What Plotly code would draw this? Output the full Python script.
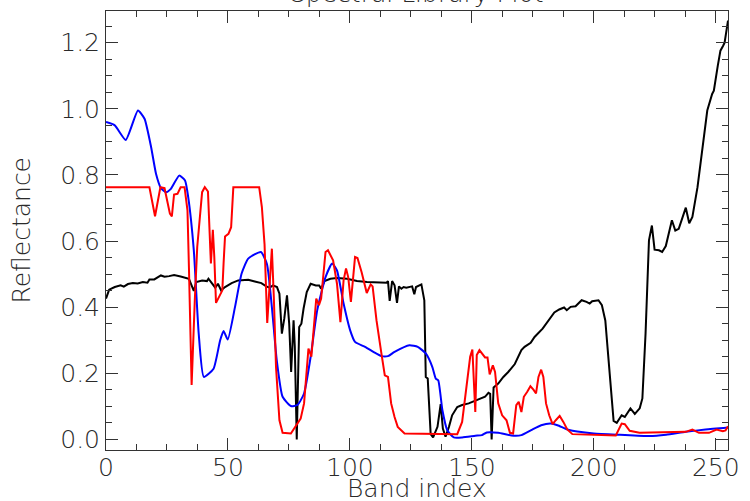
import plotly.graph_objects as go

# Blue spectrum
blue_band = [0, 3.6, 8.1, 13.1, 15.8, 18.5, 20.5, 22.5, 24.6, 26.6, 30, 32.4, 33.7, 36, 38, 40.1,
             44.1, 46.8, 48.2, 49.9, 52.9, 55.6, 58.3, 63.5, 66, 68, 70, 72.4, 75.8, 78.5, 81.2,
             83.9, 86.6, 90, 92.7, 94.7, 97.4, 100.1, 102.1, 106.2, 109.6, 112.9, 115.6, 118.3,
             124.4, 127.8, 131.1, 133.8, 135.2, 136.2, 137.9, 139.9, 142.6, 146, 151.4, 154.1,
             156.1, 160.8, 166.2, 170.3, 174.3, 178.4, 182.4, 185.1, 189.2, 193.2, 200, 210.7,
             222.8, 229.6, 237.7, 245.8, 255]
blue_refl = [0.960, 0.950, 0.906, 0.995, 0.970, 0.884, 0.804, 0.761, 0.748, 0.758, 0.798, 0.783,
             0.733, 0.572, 0.321, 0.189, 0.214, 0.300, 0.328, 0.302, 0.401, 0.502, 0.547, 0.567,
             0.530, 0.400, 0.240, 0.129, 0.101, 0.104, 0.139, 0.250, 0.391, 0.491, 0.532, 0.511,
             0.411, 0.330, 0.295, 0.280, 0.265, 0.252, 0.252, 0.265, 0.285, 0.280, 0.260, 0.219,
             0.184, 0.179, 0.089, 0.028, 0.006, 0.006, 0.011, 0.013, 0.021, 0.020, 0.012, 0.013,
             0.028, 0.043, 0.048, 0.043, 0.030, 0.024, 0.018, 0.014, 0.010, 0.014, 0.023, 0.030,
             0.036]

# Red spectrum
red_band = [0, 17.8, 20.1, 22.3, 24, 26.2, 27, 27.9, 29.3, 30.6, 32.2, 33.4, 34, 35.1, 36.4, 37.4,
            39.4, 40.5, 41.8, 42.5, 43, 43.8, 44.4, 45.1, 46.8, 47.7, 48.2, 48.8, 50.2, 51.3, 52.2,
            62.8, 63.9, 65, 66.1, 67.1, 68, 68.8, 69.7, 71.1, 72.4, 75.8, 77.2, 79.8, 81.2, 83,
            84.2, 85.3, 86.2, 87.3, 88.2, 90, 91, 93.1, 94.7, 96.1, 97.4, 98.4, 99.3, 100.4, 102.1,
            103.1, 104.8, 106.9, 108.5, 109.3, 110.9, 112.9, 114.3, 115.6, 116.9, 118.3, 119.6,
            122.4, 144, 146, 147.3, 148.4, 149.3, 150.2, 151.4, 152, 153.1, 155.4, 156.4, 157.3,
            158.6, 159.5, 160.8, 162.4, 164.2, 165.6, 166.9, 168.2, 169.2, 170.3, 171.3, 172.7,
            174, 175.3, 176.3, 177.3, 178.4, 179.3, 180.4, 181.7, 183.1, 184.4, 186, 187.5, 189.1,
            191.2, 200, 208, 209, 211.4, 212.7, 214.7, 218.7, 237.7, 240.4, 243.1, 247.2, 250.3,
            252.9, 254, 255]
red_refl = [0.763, 0.763, 0.675, 0.763, 0.760, 0.683, 0.675, 0.741, 0.743, 0.763, 0.763, 0.693,
            0.521, 0.165, 0.421, 0.582, 0.748, 0.763, 0.750, 0.600, 0.532, 0.634, 0.552, 0.413,
            0.441, 0.451, 0.532, 0.614, 0.622, 0.642, 0.763, 0.763, 0.703, 0.590, 0.352, 0.470,
            0.577, 0.431, 0.219, 0.058, 0.020, 0.018, 0.033, 0.063, 0.109, 0.275, 0.250, 0.350,
            0.426, 0.406, 0.426, 0.567, 0.572, 0.542, 0.471, 0.355, 0.481, 0.517, 0.491, 0.416,
            0.552, 0.549, 0.506, 0.443, 0.469, 0.463, 0.360, 0.260, 0.194, 0.189, 0.109, 0.068,
            0.038, 0.018, 0.016, 0.053, 0.129, 0.189, 0.250, 0.272, 0.083, 0.255, 0.270, 0.248,
            0.248, 0.197, 0.224, 0.204, 0.109, 0.073, 0.058, 0.020, 0.018, 0.104, 0.114, 0.083,
            0.129, 0.144, 0.161, 0.150, 0.139, 0.189, 0.211, 0.189, 0.109, 0.073, 0.046, 0.058,
            0.071, 0.053, 0.030, 0.016, 0.014, 0.010, 0.012, 0.048, 0.046, 0.026, 0.020, 0.023,
            0.030, 0.020, 0.020, 0.030, 0.025, 0.027, 0.040]

# Black spectrum
black_band = [0, 1.3, 3.6, 6, 7.3, 9, 11, 13, 15.1, 17, 17.8, 19.8, 22.5, 24, 25.9, 27.9, 30.6,
              32.5, 34, 36, 37, 39.4, 41.4, 42, 44.8, 45.9, 47.2, 48.8, 51.5, 54.2, 58.3, 61,
              63.7, 65.7, 67.1, 68.4, 70.1, 71.1, 72.1, 73.1, 74.2, 75.1, 75.9, 76.9, 77.4, 78.2,
              79.2, 80.1, 81, 82.3, 83.9, 86, 87.4, 88.2, 89.6, 92, 94.7, 98.8, 102.9, 107, 111,
              115, 115.6, 116.3, 117.3, 118.3, 119.3, 120.1, 121.1, 122, 123.1, 124.5, 125.5,
              126.4, 127.1, 129.3, 130.5, 131.1, 131.9, 133.1, 134.1, 135.9, 137.2, 138.1, 139.2,
              140.6, 141.9, 144, 146, 148.7, 151.4, 153.4, 155.4, 156.8, 157.5, 158.1, 158.9,
              160.8, 162.9, 164.9, 167.6, 170.3, 171.6, 174.1, 175.7, 179, 181.1, 183.8, 185.8,
              187.8, 188.9, 190.5, 192.5, 195, 197, 198.3, 199.3, 201.9, 203.3, 204.7, 205.7,
              207, 208.1, 209.4, 211.4, 212.7, 215, 216.8, 218.8, 219.9, 221.2, 222.6, 223.8,
              224.9, 226.7, 228, 229.5, 232, 233.4, 234.8, 236.1, 237.7, 239.1, 240.4, 242.5,
              244.5, 246.5, 248.5, 249.2, 250.8, 251.9, 253, 253.6, 255]
black_refl = [0.426, 0.453, 0.461, 0.466, 0.462, 0.470, 0.473, 0.472, 0.476, 0.474, 0.484, 0.484,
              0.496, 0.492, 0.494, 0.497, 0.493, 0.490, 0.486, 0.449, 0.476, 0.481, 0.479, 0.486,
              0.459, 0.471, 0.451, 0.461, 0.473, 0.481, 0.483, 0.478, 0.473, 0.463, 0.459, 0.466,
              0.461, 0.441, 0.320, 0.366, 0.436, 0.350, 0.204, 0.360, 0.280, 0.000, 0.340, 0.350,
              0.396, 0.446, 0.471, 0.466, 0.466, 0.456, 0.479, 0.486, 0.488, 0.486, 0.479, 0.476,
              0.474, 0.474, 0.479, 0.419, 0.479, 0.466, 0.413, 0.463, 0.456, 0.461, 0.459, 0.461,
              0.463, 0.439, 0.461, 0.469, 0.421, 0.189, 0.184, 0.016, 0.006, 0.038, 0.107, 0.033,
              0.008, 0.038, 0.073, 0.098, 0.104, 0.109, 0.117, 0.124, 0.129, 0.141, 0.138, 0.000,
              0.157, 0.169, 0.189, 0.204, 0.228, 0.270, 0.280, 0.292, 0.310, 0.335, 0.355, 0.384,
              0.393, 0.399, 0.391, 0.401, 0.403, 0.421, 0.416, 0.411, 0.418, 0.421, 0.406, 0.360,
              0.270, 0.149, 0.056, 0.050, 0.073, 0.068, 0.094, 0.077, 0.094, 0.124, 0.320, 0.602,
              0.647, 0.574, 0.572, 0.567, 0.585, 0.663, 0.632, 0.637, 0.663, 0.701, 0.654, 0.673,
              0.763, 0.874, 0.995, 1.045, 1.055, 1.130, 1.176, 1.191, 1.200, 1.267]

x_range = [0, 255]
y_range = [-0.032, 1.296]
x_ticks = [0, 50, 100, 150, 200, 250]
y_ticks = [0.0, 0.2, 0.4, 0.6, 0.8, 1.0, 1.2]
y_labels = ["0.0", "0.2", "0.4", "0.6", "0.8", "1.0", "1.2"]

FONT = "DejaVu Sans"
TXT = "#2a2a2a"
AX = "#333333"

fig = go.Figure()
fig.add_trace(go.Scatter(x=black_band, y=black_refl, mode="lines",
                         line=dict(color="black", width=2), showlegend=False))
fig.add_trace(go.Scatter(x=blue_band, y=blue_refl, mode="lines",
                         line=dict(color="#0000ff", width=2, shape="spline", smoothing=0.5),
                         showlegend=False))
fig.add_trace(go.Scatter(x=red_band, y=red_refl, mode="lines",
                         line=dict(color="#ff0000", width=2), showlegend=False))

axis_common = dict(showgrid=False, zeroline=False, showline=True, linecolor=AX, linewidth=1,
                   mirror="allticks", ticks="inside", ticklen=12, tickwidth=1, tickcolor=AX,
                   tickfont=dict(family=FONT, size=25, color=TXT, weight=200))

fig.update_layout(
    width=750, height=501,
    margin=dict(l=106, r=14, t=10, b=51),
    plot_bgcolor="white", paper_bgcolor="white",
    xaxis=dict(range=x_range, tickvals=x_ticks, ticktext=[str(v) for v in x_ticks],
               ticklabelstandoff=-5,
               minor=dict(dtick=12.5, tick0=0, ticks="inside", ticklen=6, tickcolor=AX),
               **axis_common),
    yaxis=dict(range=y_range, tickvals=y_ticks, ticktext=y_labels,
               minor=dict(dtick=0.05, tick0=0, ticks="inside", ticklen=6, tickcolor=AX),
               **axis_common),
    annotations=[
        dict(text="Spectral Library Plot", xref="paper", yref="paper", x=0.5, y=1,
             xanchor="center", yanchor="bottom", yshift=1, showarrow=False,
             font=dict(family=FONT, size=25, color=TXT, weight=200)),
        dict(text="Band index", xref="paper", yref="paper", x=0.5, y=0,
             xanchor="center", yanchor="top", yshift=-22, showarrow=False,
             font=dict(family=FONT, size=25, color=TXT, weight=200)),
        dict(text="Reflectance", xref="paper", yref="paper", x=(20 - 106) / 630, y=0.5,
             xanchor="center", yanchor="middle", textangle=-90, showarrow=False,
             font=dict(family=FONT, size=25, color=TXT, weight=200)),
    ],
)

fig.write_html("out.html")
